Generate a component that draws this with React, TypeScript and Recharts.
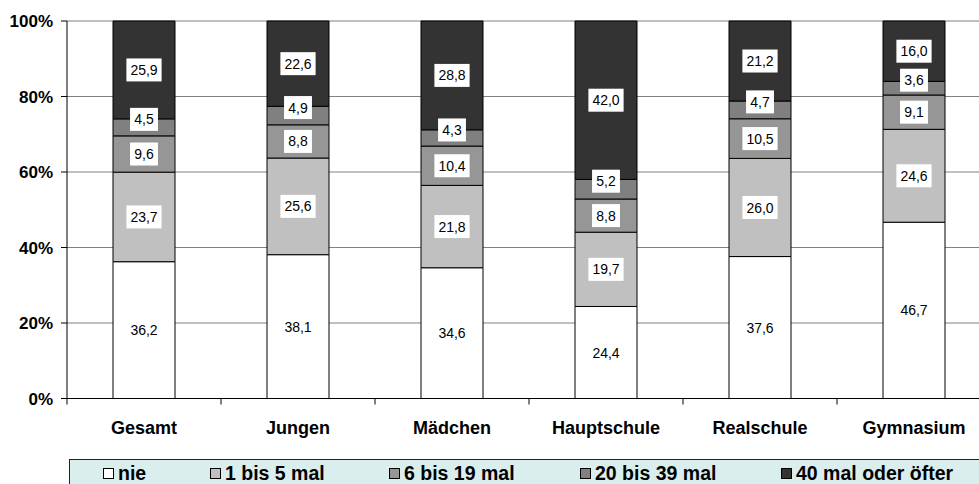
import { Bar, BarChart, CartesianGrid, LabelList, Legend, XAxis, YAxis } from "recharts";

const categories = ["Gesamt", "Jungen", "Mädchen", "Hauptschule", "Realschule", "Gymnasium"];
const nie = [36.2, 38.1, 34.6, 24.4, 37.6, 46.7];
const einsBisFuenf = [23.7, 25.6, 21.8, 19.7, 26.0, 24.6];
const sechsBisNeunzehn = [9.6, 8.8, 10.4, 8.8, 10.5, 9.1];
const zwanzigBisNeununddreissig = [4.5, 4.9, 4.3, 5.2, 4.7, 3.6];
const vierzigUndMehr = [25.9, 22.6, 28.8, 42.0, 21.2, 16.0];
const yTicks = [0, 0.2, 0.4, 0.6, 0.8, 1];

const series = [
  { key: "nie", label: "nie", values: nie, color: "#ffffff", boxed: false },
  { key: "s1", label: "1 bis 5 mal", values: einsBisFuenf, color: "#c0c0c0", boxed: true },
  { key: "s2", label: "6 bis 19 mal", values: sechsBisNeunzehn, color: "#969696", boxed: true },
  { key: "s3", label: "20 bis 39 mal", values: zwanzigBisNeununddreissig, color: "#808080", boxed: true },
  { key: "s4", label: "40 mal oder öfter", values: vierzigUndMehr, color: "#333333", boxed: true },
];

const data = categories.map((name, i) => {
  const row: Record<string, string | number> = { name };
  series.forEach((s) => {
    row[s.key] = s.values[i];
  });
  return row;
});

const FONT = "Arial, 'Liberation Sans', Helvetica, sans-serif";
const legendLefts = [33, 140, 319, 510, 711];

const fmt = (v: number) => v.toFixed(1).replace(".", ",");

function makeLabel(boxed: boolean) {
  return (props: any) => {
    const { x, y, width, height, value } = props;
    if (value == null) return null;
    const text = fmt(Number(value));
    const cx = Number(x) + Number(width) / 2;
    let cy = Number(y) + Number(height) / 2;
    // small segments: Excel nudges the label upwards
    if (Math.abs(Number(height)) < 24) cy -= 8;
    const w = text.length * 7.3 + 6;
    const h = 23;
    return (
      <g>
        {boxed && (
          <rect x={cx - w / 2} y={cy - h / 2} width={w} height={h} fill="#ffffff" stroke="none" />
        )}
        <text
          x={cx}
          y={cy}
          dy="0.36em"
          textAnchor="middle"
          fontFamily={FONT}
          fontSize={14}
          fill="#000"
          stroke="none"
        >
          {text}
        </text>
      </g>
    );
  };
}

function CategoryTick(props: any) {
  const { x, y, payload, index, visibleTicksCount } = props;
  const half = payload?.offset || 77;
  const last = index === (visibleTicksCount ?? categories.length) - 1;
  return (
    <g>
      <line x1={x - half} y1={y - 6} x2={x - half} y2={y} stroke="#000" />
      {last && <line x1={x + half} y1={y - 6} x2={x + half} y2={y} stroke="#000" />}
      <text
        x={x}
        y={y + 29.5}
        textAnchor="middle"
        fontFamily={FONT}
        fontSize={18}
        fontWeight="bold"
        fill="#000"
        stroke="none"
      >
        {payload.value}
      </text>
    </g>
  );
}

function LegendBox() {
  return (
    <div
      style={{
        position: "relative",
        width: "100%",
        height: 30,
        boxSizing: "border-box",
        background: "#dbeeee",
        borderTop: "1px solid #222",
        borderLeft: "1px solid #222",
        fontFamily: FONT,
        fontWeight: "bold",
        fontSize: 19.5,
        color: "#000",
      }}
    >
      {series.map((s, i) => (
        <div
          key={s.key}
          style={{
            position: "absolute",
            left: legendLefts[i],
            top: 2,
            display: "flex",
            alignItems: "center",
            whiteSpace: "nowrap",
            lineHeight: "22px",
          }}
        >
          <span
            style={{
              display: "inline-block",
              width: 9,
              height: 9,
              background: s.color,
              border: "1px solid #000",
              marginRight: 4,
            }}
          />
          {s.label}
        </div>
      ))}
    </div>
  );
}

export default function App() {
  return (
    <div
      style={{
        position: "absolute",
        left: 0,
        top: 0,
        width: 979,
        height: 484,
        overflow: "hidden",
        background: "#ffffff",
      }}
    >
      <BarChart
        width={991}
        height={484}
        data={data}
        stackOffset="expand"
        margin={{ top: 21, right: 0, left: 0, bottom: 15.5 }}
        barSize={62}
      >
        <CartesianGrid vertical={false} stroke="#808080" strokeWidth={1} />
        <XAxis
          dataKey="name"
          height={40}
          tickLine={false}
          tickSize={6}
          tickMargin={0}
          axisLine={{ stroke: "#000" }}
          tick={<CategoryTick />}
          interval={0}
        />
        <YAxis
          width={67}
          domain={[0, 1]}
          ticks={yTicks}
          tickFormatter={(v: number) => `${Math.round(v * 100)}%`}
          tickSize={6}
          tickMargin={8}
          axisLine={{ stroke: "#000" }}
          tickLine={{ stroke: "#000" }}
          tick={{ fontFamily: FONT, fontSize: 17, fontWeight: "bold", fill: "#000" }}
        />
        <Legend
          verticalAlign="bottom"
          content={() => <LegendBox />}
          wrapperStyle={{ top: 459, left: 69, width: 930, height: 30 }}
        />
        {series.map((s) => (
          <Bar
            key={s.key}
            dataKey={s.key}
            name={s.label}
            stackId="a"
            fill={s.color}
            stroke="#000"
            strokeWidth={1}
            isAnimationActive={false}
          >
            <LabelList dataKey={s.key} content={makeLabel(s.boxed)} />
          </Bar>
        ))}
      </BarChart>
    </div>
  );
}
